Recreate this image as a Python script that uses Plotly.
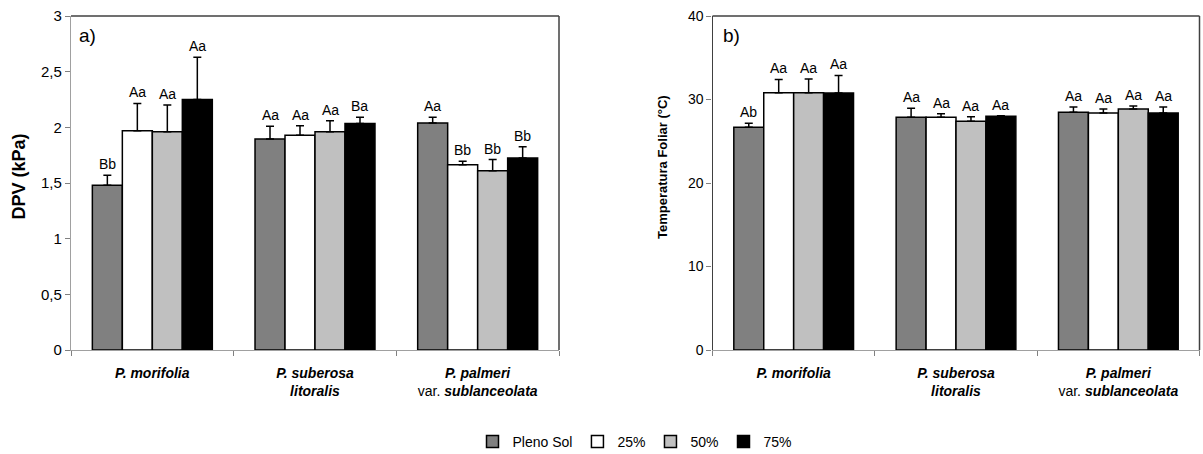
import plotly.graph_objects as go

# ---------------- data ----------------
species = [
    "<b><i>P. morifolia</i></b>",
    "<b><i>P. suberosa</i></b><br><b><i>litoralis</i></b>",
    "<b><i>P. palmeri</i></b><br>var. <b><i>sublanceolata</i></b>",
]
treatments = ["Pleno Sol", "25%", "50%", "75%"]
colors = ["#808080", "#ffffff", "#c0c0c0", "#000000"]

# a) DPV (kPa): mean and standard error per treatment, by species
dpv_mean = {
    "Pleno Sol": [1.48, 1.895, 2.04],
    "25%": [1.97, 1.93, 1.665],
    "50%": [1.96, 1.96, 1.61],
    "75%": [2.25, 2.035, 1.725],
}
dpv_err = {
    "Pleno Sol": [0.09, 0.115, 0.05],
    "25%": [0.245, 0.085, 0.03],
    "50%": [0.24, 0.10, 0.10],
    "75%": [0.38, 0.055, 0.10],
}
dpv_letters = {
    "Pleno Sol": ["Bb", "Aa", "Aa"],
    "25%": ["Aa", "Aa", "Bb"],
    "50%": ["Aa", "Aa", "Bb"],
    "75%": ["Aa", "Ba", "Bb"],
}

# b) Temperatura foliar (°C)
temp_mean = {
    "Pleno Sol": [26.67, 27.87, 28.46],
    "25%": [30.8, 27.87, 28.38],
    "50%": [30.8, 27.39, 28.86],
    "75%": [30.78, 27.98, 28.38],
}
temp_err = {
    "Pleno Sol": [0.5, 1.07, 0.64],
    "25%": [1.6, 0.43, 0.48],
    "50%": [1.65, 0.55, 0.36],
    "75%": [2.1, 0.08, 0.72],
}
temp_letters = {
    "Pleno Sol": ["Ab", "Aa", "Aa"],
    "25%": ["Aa", "Aa", "Aa"],
    "50%": ["Aa", "Aa", "Aa"],
    "75%": ["Aa", "Aa", "Aa"],
}

dpv_ticks = [0, 0.5, 1, 1.5, 2, 2.5, 3]
temp_ticks = [0, 10, 20, 30, 40]

# ---------------- figure ----------------
W, H = 1203, 454
FONT = "Liberation Sans, Arial, sans-serif"
BARGAP = 0.2625
xpos = list(range(len(species)))

fig = go.Figure()
annotations = []

panels = [
    ("x", "y", dpv_mean, dpv_err, dpv_letters),
    ("x2", "y2", temp_mean, temp_err, temp_letters),
]
w = (1 - BARGAP) / len(treatments)
for p, (xa, ya, means, errs, letters) in enumerate(panels):
    for i, t in enumerate(treatments):
        fig.add_trace(go.Bar(
            x=xpos, y=means[t], name=t, xaxis=xa, yaxis=ya,
            marker=dict(color=colors[i], line=dict(color="#000000", width=1.5)),
            error_y=dict(type="data", array=errs[t], arrayminus=[0] * len(xpos),
                         symmetric=False, color="#000000", thickness=1.5, width=4),
            showlegend=(p == 0), legendgroup=t,
        ))
        for j in xpos:
            annotations.append(dict(
                x=j + (i - 1.5) * w, y=means[t][j] + errs[t][j], xref=xa, yref=ya,
                text=letters[t][j], showarrow=False, xanchor="center", yanchor="bottom",
                yshift=1, font=dict(family=FONT, size=14, color="#000000"),
            ))

x1_dom = [71 / W, 559 / W]
x2_dom = [712.5 / W, 1199.5 / W]
y_dom = [104 / H, 438 / H]

def xaxis_cfg(dom, anchor):
    return dict(
        domain=dom, anchor=anchor, range=[-0.5, 2.5], automargin=False,
        tickmode="array", tickvals=xpos, ticktext=species, ticks="",
        showline=True, linecolor="#a0a0a0", linewidth=1.2,
        showgrid=False, zeroline=False, ticklabelstandoff=10,
        tickfont=dict(family=FONT, size=14, color="#000000"),
        minor=dict(tickvals=[-0.5, 0.5, 1.5, 2.5], ticks="outside", ticklen=5,
                   tickcolor="#808080", tickwidth=1, showgrid=False),
    )

fig.update_layout(
    template="none",
    width=W, height=H,
    margin=dict(l=0, r=0, t=0, b=0, autoexpand=False),
    paper_bgcolor="white", plot_bgcolor="white",
    separators=", ",
    barmode="group", bargap=BARGAP, bargroupgap=0,
    font=dict(family=FONT, size=14, color="#000000"),
    xaxis=xaxis_cfg(x1_dom, "y"),
    xaxis2=xaxis_cfg(x2_dom, "y2"),
    yaxis=dict(domain=y_dom, anchor="x", range=[0, 3], tickmode="array", tickvals=dpv_ticks,
               ticks="outside", ticklen=5, tickcolor="#808080", showline=True, automargin=False,
               linecolor="#a0a0a0", linewidth=1.2, showgrid=False, zeroline=False,
               tickfont=dict(family=FONT, size=15, color="#000000")),
    yaxis2=dict(domain=y_dom, anchor="x2", range=[0, 40], tickmode="array", tickvals=temp_ticks,
                ticks="outside", ticklen=5, tickcolor="#808080", showline=True, automargin=False,
                linecolor="#404040", linewidth=1.2, showgrid=False, zeroline=False,
                tickfont=dict(family=FONT, size=14, color="#000000")),
    legend=dict(orientation="h", x=635 / W, xanchor="center", y=12 / H, yanchor="middle",
                font=dict(family=FONT, size=14, color="#000000"), traceorder="normal",
                itemclick=False, tracegroupgap=0, bgcolor="rgba(0,0,0,0)"),
)

# plot-area borders (top and right)
for xa, ya in [("x", "y"), ("x2", "y2")]:
    fig.add_shape(type="line", xref=f"{xa} domain", yref=f"{ya} domain",
                  x0=0, x1=1, y0=1, y1=1, line=dict(color="#404040", width=1.5))
    fig.add_shape(type="line", xref=f"{xa} domain", yref=f"{ya} domain",
                  x0=1, x1=1, y0=0, y1=1, line=dict(color="#404040", width=1.5))

annotations += [
    dict(x=18.5 / W, y=(H - 177) / H, xref="paper", yref="paper", text="<b>DPV (kPa)</b>",
         textangle=-90, showarrow=False, xanchor="center", yanchor="middle",
         font=dict(family=FONT, size=18, color="#000000")),
    dict(x=662 / W, y=(H - 167) / H, xref="paper", yref="paper",
         text="<b>Temperatura Foliar (°C)</b>", textangle=-90, showarrow=False,
         xanchor="center", yanchor="middle",
         font=dict(family=FONT, size=13, color="#000000")),
    dict(x=77 / W, y=(H - 35.5) / H, xref="paper", yref="paper", text="a)", xanchor="left",
         yanchor="middle", showarrow=False, font=dict(family=FONT, size=19, color="#000000")),
    dict(x=721 / W, y=(H - 35.5) / H, xref="paper", yref="paper", text="b)", xanchor="left",
         yanchor="middle", showarrow=False, font=dict(family=FONT, size=19, color="#000000")),
]
fig.update_layout(annotations=annotations)

fig.write_html("out.html")
